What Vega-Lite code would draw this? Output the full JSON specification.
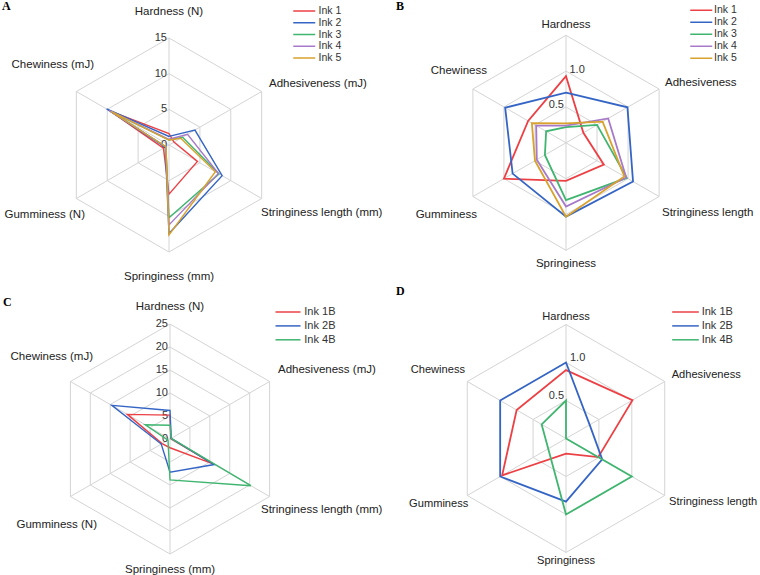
{
"$schema": "https://vega.github.io/schema/vega-lite/v6.json",
"padding": 0,
"background": "white",
"spacing": 0,
"bounds": "flush",
"columns": 2,
"config": {"view": {"stroke": null}, "concat": {"spacing": 0}, "text": {"font": "Liberation Sans"}, "legend": {"padding": 0}},
"datasets": {
"spokes": [{"idx":0},{"idx":1},{"idx":2},{"idx":3},{"idx":4},{"idx":5}],
"ringsA": [{"level":5,"idx":[0,1,2,3,4,5]},{"level":10,"idx":[0,1,2,3,4,5]},{"level":15,"idx":[0,1,2,3,4,5]}],
"ringsC": [{"level":5,"idx":[0,1,2,3,4,5]},{"level":10,"idx":[0,1,2,3,4,5]},{"level":15,"idx":[0,1,2,3,4,5]},{"level":20,"idx":[0,1,2,3,4,5]},{"level":25,"idx":[0,1,2,3,4,5]}],
"ringsN": [{"level":0.5,"idx":[0,1,2,3,4,5]},{"level":1.0,"idx":[0,1,2,3,4,5]},{"level":1.5,"idx":[0,1,2,3,4,5]}],
"ticksA": [{"tick":0},{"tick":5},{"tick":10},{"tick":15}],
"ticksC": [{"tick":0},{"tick":5},{"tick":10},{"tick":15},{"tick":20},{"tick":25}],
"ticksN": [{"tick":0.5},{"tick":1.0}],
"labU": [{"attr":"Hardness","label":"Hardness (N)"},{"attr":"Adhesiveness","label":"Adhesiveness (mJ)"},{"attr":"Stringiness","label":"Stringiness length (mm)"},{"attr":"Springiness","label":"Springiness (mm)"},{"attr":"Gumminess","label":"Gumminess (N)"},{"attr":"Chewiness","label":"Chewiness (mJ)"}],
"labN": [{"attr":"Hardness","label":"Hardness"},{"attr":"Adhesiveness","label":"Adhesiveness"},{"attr":"Stringiness","label":"Stringiness length"},{"attr":"Springiness","label":"Springiness"},{"attr":"Gumminess","label":"Gumminess"},{"attr":"Chewiness","label":"Chewiness"}],
"dA": [
{"ink":"Ink 1","attr":"Hardness","value":1.6},{"ink":"Ink 1","attr":"Adhesiveness","value":0.8},{"ink":"Ink 1","attr":"Stringiness","value":4.6},{"ink":"Ink 1","attr":"Springiness","value":6.9},{"ink":"Ink 1","attr":"Gumminess","value":0.9},{"ink":"Ink 1","attr":"Chewiness","value":9.5},
{"ink":"Ink 2","attr":"Hardness","value":1.2},{"ink":"Ink 2","attr":"Adhesiveness","value":4.2},{"ink":"Ink 2","attr":"Stringiness","value":8.6},{"ink":"Ink 2","attr":"Springiness","value":12.4},{"ink":"Ink 2","attr":"Gumminess","value":0.6},{"ink":"Ink 2","attr":"Chewiness","value":10.1},
{"ink":"Ink 3","attr":"Hardness","value":0.7},{"ink":"Ink 3","attr":"Adhesiveness","value":2.2},{"ink":"Ink 3","attr":"Stringiness","value":8.1},{"ink":"Ink 3","attr":"Springiness","value":10.2},{"ink":"Ink 3","attr":"Gumminess","value":0.5},{"ink":"Ink 3","attr":"Chewiness","value":9.2},
{"ink":"Ink 4","attr":"Hardness","value":0.8},{"ink":"Ink 4","attr":"Adhesiveness","value":3.0},{"ink":"Ink 4","attr":"Stringiness","value":8.0},{"ink":"Ink 4","attr":"Springiness","value":11.2},{"ink":"Ink 4","attr":"Gumminess","value":0.5},{"ink":"Ink 4","attr":"Chewiness","value":9.7},
{"ink":"Ink 5","attr":"Hardness","value":0.7},{"ink":"Ink 5","attr":"Adhesiveness","value":1.9},{"ink":"Ink 5","attr":"Stringiness","value":7.5},{"ink":"Ink 5","attr":"Springiness","value":12.6},{"ink":"Ink 5","attr":"Gumminess","value":0.5},{"ink":"Ink 5","attr":"Chewiness","value":9.4}
],
"dB": [
{"ink":"Ink 1","attr":"Hardness","value":0.93},{"ink":"Ink 1","attr":"Adhesiveness","value":0.28},{"ink":"Ink 1","attr":"Stringiness","value":0.61},{"ink":"Ink 1","attr":"Springiness","value":0.53},{"ink":"Ink 1","attr":"Gumminess","value":1.0},{"ink":"Ink 1","attr":"Chewiness","value":0.61},
{"ink":"Ink 2","attr":"Hardness","value":0.70},{"ink":"Ink 2","attr":"Adhesiveness","value":0.99},{"ink":"Ink 2","attr":"Stringiness","value":1.08},{"ink":"Ink 2","attr":"Springiness","value":1.03},{"ink":"Ink 2","attr":"Gumminess","value":0.86},{"ink":"Ink 2","attr":"Chewiness","value":0.98},
{"ink":"Ink 3","attr":"Hardness","value":0.22},{"ink":"Ink 3","attr":"Adhesiveness","value":0.50},{"ink":"Ink 3","attr":"Stringiness","value":0.98},{"ink":"Ink 3","attr":"Springiness","value":0.80},{"ink":"Ink 3","attr":"Gumminess","value":0.34},{"ink":"Ink 3","attr":"Chewiness","value":0.32},
{"ink":"Ink 4","attr":"Hardness","value":0.24},{"ink":"Ink 4","attr":"Adhesiveness","value":0.68},{"ink":"Ink 4","attr":"Stringiness","value":0.97},{"ink":"Ink 4","attr":"Springiness","value":0.89},{"ink":"Ink 4","attr":"Gumminess","value":0.47},{"ink":"Ink 4","attr":"Chewiness","value":0.48},
{"ink":"Ink 5","attr":"Hardness","value":0.27},{"ink":"Ink 5","attr":"Adhesiveness","value":0.59},{"ink":"Ink 5","attr":"Stringiness","value":0.94},{"ink":"Ink 5","attr":"Springiness","value":1.03},{"ink":"Ink 5","attr":"Gumminess","value":0.50},{"ink":"Ink 5","attr":"Chewiness","value":0.55}
],
"dC": [
{"ink":"Ink 1B","attr":"Hardness","value":5.2},{"ink":"Ink 1B","attr":"Adhesiveness","value":0.2},{"ink":"Ink 1B","attr":"Stringiness","value":10.8},{"ink":"Ink 1B","attr":"Springiness","value":1.9},{"ink":"Ink 1B","attr":"Gumminess","value":2.0},{"ink":"Ink 1B","attr":"Chewiness","value":10.7},
{"ink":"Ink 2B","attr":"Hardness","value":6.2},{"ink":"Ink 2B","attr":"Adhesiveness","value":0.3},{"ink":"Ink 2B","attr":"Stringiness","value":11.1},{"ink":"Ink 2B","attr":"Springiness","value":7.2},{"ink":"Ink 2B","attr":"Gumminess","value":2.2},{"ink":"Ink 2B","attr":"Chewiness","value":14.6},
{"ink":"Ink 4B","attr":"Hardness","value":3.0},{"ink":"Ink 4B","attr":"Adhesiveness","value":0.3},{"ink":"Ink 4B","attr":"Stringiness","value":20.3},{"ink":"Ink 4B","attr":"Springiness","value":8.9},{"ink":"Ink 4B","attr":"Gumminess","value":0.5},{"ink":"Ink 4B","attr":"Chewiness","value":6.2}
],
"dD": [
{"ink":"Ink 1B","attr":"Hardness","value":0.90},{"ink":"Ink 1B","attr":"Adhesiveness","value":1.01},{"ink":"Ink 1B","attr":"Stringiness","value":0.49},{"ink":"Ink 1B","attr":"Springiness","value":0.20},{"ink":"Ink 1B","attr":"Gumminess","value":0.97},{"ink":"Ink 1B","attr":"Chewiness","value":0.75},
{"ink":"Ink 2B","attr":"Hardness","value":1.0},{"ink":"Ink 2B","attr":"Adhesiveness","value":0.36},{"ink":"Ink 2B","attr":"Stringiness","value":0.55},{"ink":"Ink 2B","attr":"Springiness","value":0.83},{"ink":"Ink 2B","attr":"Gumminess","value":1.0},{"ink":"Ink 2B","attr":"Chewiness","value":1.0},
{"ink":"Ink 4B","attr":"Hardness","value":0.50},{"ink":"Ink 4B","attr":"Adhesiveness","value":0.0},{"ink":"Ink 4B","attr":"Stringiness","value":1.0},{"ink":"Ink 4B","attr":"Springiness","value":1.0},{"ink":"Ink 4B","attr":"Gumminess","value":0.27},{"ink":"Ink 4B","attr":"Chewiness","value":0.37}
]
},
"resolve": {"scale": {"color": "independent", "x": "independent", "y": "independent"}, "legend": {"color": "independent"}},
"concat": [
{
"width": 380, "height": 287,
"title": {"text": "A", "anchor": "start", "frame": "group", "offset": -11, "dx": 2, "font": "Liberation Serif", "fontSize": 12, "fontWeight": "bold", "color": "#000"},
"encoding": {
"x": {"field": "x", "type": "quantitative", "scale": {"domain": [-23.692, 29.579], "nice": false, "zero": false}, "axis": null},
"y": {"field": "y", "type": "quantitative", "scale": {"domain": [-20.187, 20.047], "nice": false, "zero": false}, "axis": null}
},
"layer": [
{"data": {"name": "ringsA"}, "transform": [{"flatten": ["idx"]}, {"calculate": "datum.level*sin(datum.idx*PI/3)", "as": "x"}, {"calculate": "datum.level*cos(datum.idx*PI/3)", "as": "y"}], "mark": {"type": "line", "interpolate": "linear-closed", "color": "#d4d4d4", "strokeWidth": 1}, "encoding": {"detail": {"field": "level", "type": "nominal"}, "order": {"field": "idx", "type": "quantitative"}}},
{"data": {"name": "spokes"}, "transform": [{"calculate": "0", "as": "x"}, {"calculate": "0", "as": "y"}, {"calculate": "15*sin(datum.idx*PI/3)", "as": "x2"}, {"calculate": "15*cos(datum.idx*PI/3)", "as": "y2"}], "mark": {"type": "rule", "color": "#d4d4d4", "strokeWidth": 1}, "encoding": {"x2": {"field": "x2"}, "y2": {"field": "y2"}}},
{"data": {"name": "ticksA"}, "transform": [{"calculate": "0", "as": "x"}, {"calculate": "datum.tick", "as": "y"}], "mark": {"type": "text", "align": "right", "baseline": "middle", "dx": -2, "fontSize": 11, "color": "#333"}, "encoding": {"text": {"field": "tick", "type": "quantitative", "format": "d"}}},
{"data": {"name": "labU"}, "transform": [{"filter": "datum.attr=='Adhesiveness' || datum.attr=='Stringiness'"}, {"calculate": "(datum.attr=='Adhesiveness' ? 100 : 92)/7.1333", "as": "x"}, {"calculate": "(datum.attr=='Adhesiveness' ? 61 : -68)/7.1333", "as": "y"}], "mark": {"type": "text", "align": "left", "baseline": "middle", "fontSize": 11.5, "color": "#222"}, "encoding": {"text": {"field": "label"}}},
{"data": {"name": "labU"}, "transform": [{"filter": "datum.attr=='Gumminess' || datum.attr=='Chewiness'"}, {"calculate": "(datum.attr=='Gumminess' ? -84 : -75)/7.1333", "as": "x"}, {"calculate": "(datum.attr=='Gumminess' ? -70 : 80)/7.1333", "as": "y"}], "mark": {"type": "text", "align": "right", "baseline": "middle", "fontSize": 11.5, "color": "#222"}, "encoding": {"text": {"field": "label"}}},
{"data": {"name": "labU"}, "transform": [{"filter": "datum.attr=='Hardness' || datum.attr=='Springiness'"}, {"calculate": "0", "as": "x"}, {"calculate": "(datum.attr=='Hardness' ? 133 : -132)/7.1333", "as": "y"}], "mark": {"type": "text", "align": "center", "baseline": "middle", "fontSize": 11.5, "color": "#222"}, "encoding": {"text": {"field": "label"}}},
{"data": {"name": "dA"}, "transform": [{"calculate": "indexof(['Hardness','Adhesiveness','Stringiness','Springiness','Gumminess','Chewiness'],datum.attr)", "as": "idx"}, {"calculate": "datum.value*sin(datum.idx*PI/3)", "as": "x"}, {"calculate": "datum.value*cos(datum.idx*PI/3)", "as": "y"}], "mark": {"type": "line", "interpolate": "linear-closed", "strokeWidth": 1.4},
 "encoding": {"order": {"field": "idx", "type": "quantitative"}, "color": {"field": "ink", "type": "nominal", "scale": {"domain": ["Ink 1", "Ink 2", "Ink 3", "Ink 4", "Ink 5"], "range": ["#ec4044", "#3565c4", "#3fb56f", "#a67ac9", "#d9a22c"]},
 "legend": {"title": null, "orient": "none", "legendX": 299, "legendY": 3.75, "symbolType": "M-2.75,0H2.75", "symbolSize": 64, "symbolStrokeWidth": 1.5, "labelFont": "Liberation Sans", "labelFontSize": 10.5, "labelColor": "#333", "rowPadding": 0.75, "labelOffset": 9}}}}
]
},
{
"width": 380, "height": 287,
"title": {"text": "B", "anchor": "start", "frame": "group", "offset": -11, "dx": 16, "font": "Liberation Serif", "fontSize": 12, "fontWeight": "bold", "color": "#000"},
"encoding": {
"x": {"field": "x", "type": "quantitative", "scale": {"domain": [-2.5953, 2.7070], "nice": false, "zero": false}, "axis": null},
"y": {"field": "y", "type": "quantitative", "scale": {"domain": [-2.0400, 1.9647], "nice": false, "zero": false}, "axis": null}
},
"layer": [
{"data": {"name": "ringsN"}, "transform": [{"flatten": ["idx"]}, {"calculate": "datum.level*sin(datum.idx*PI/3)", "as": "x"}, {"calculate": "datum.level*cos(datum.idx*PI/3)", "as": "y"}], "mark": {"type": "line", "interpolate": "linear-closed", "color": "#d4d4d4", "strokeWidth": 1}, "encoding": {"detail": {"field": "level", "type": "nominal"}, "order": {"field": "idx", "type": "quantitative"}}},
{"data": {"name": "spokes"}, "transform": [{"calculate": "0", "as": "x"}, {"calculate": "0", "as": "y"}, {"calculate": "1.5*sin(datum.idx*PI/3)", "as": "x2"}, {"calculate": "1.5*cos(datum.idx*PI/3)", "as": "y2"}], "mark": {"type": "rule", "color": "#d4d4d4", "strokeWidth": 1}, "encoding": {"x2": {"field": "x2"}, "y2": {"field": "y2"}}},
{"data": {"name": "ticksN"}, "transform": [{"filter": "datum.tick > 0.75"}, {"calculate": "0", "as": "x"}, {"calculate": "datum.tick", "as": "y"}], "mark": {"type": "text", "align": "left", "baseline": "middle", "dx": 3.5, "dy": -1, "fontSize": 11, "color": "#333"}, "encoding": {"text": {"field": "tick", "type": "quantitative", "format": ".1f"}}},
{"data": {"name": "ticksN"}, "transform": [{"filter": "datum.tick < 0.75"}, {"calculate": "0", "as": "x"}, {"calculate": "datum.tick", "as": "y"}], "mark": {"type": "text", "align": "right", "baseline": "middle", "dx": -2, "dy": -2, "fontSize": 11, "color": "#333"}, "encoding": {"text": {"field": "tick", "type": "quantitative", "format": ".1f"}}},
{"data": {"name": "labN"}, "transform": [{"filter": "datum.attr=='Adhesiveness' || datum.attr=='Stringiness'"}, {"calculate": "(datum.attr=='Adhesiveness' ? 99 : 96)/71.667", "as": "x"}, {"calculate": "(datum.attr=='Adhesiveness' ? 60 : -70)/71.667", "as": "y"}], "mark": {"type": "text", "align": "left", "baseline": "middle", "fontSize": 11.5, "color": "#222"}, "encoding": {"text": {"field": "label"}}},
{"data": {"name": "labN"}, "transform": [{"filter": "datum.attr=='Gumminess' || datum.attr=='Chewiness'"}, {"calculate": "(datum.attr=='Gumminess' ? -89 : -79)/71.667", "as": "x"}, {"calculate": "(datum.attr=='Gumminess' ? -72 : 72)/71.667", "as": "y"}], "mark": {"type": "text", "align": "right", "baseline": "middle", "fontSize": 11.5, "color": "#222"}, "encoding": {"text": {"field": "label"}}},
{"data": {"name": "labN"}, "transform": [{"filter": "datum.attr=='Hardness' || datum.attr=='Springiness'"}, {"calculate": "0", "as": "x"}, {"calculate": "(datum.attr=='Hardness' ? 118 : -121)/71.667", "as": "y"}], "mark": {"type": "text", "align": "center", "baseline": "middle", "fontSize": 11.5, "color": "#222"}, "encoding": {"text": {"field": "label"}}},
{"data": {"name": "dB"}, "transform": [{"calculate": "indexof(['Hardness','Adhesiveness','Stringiness','Springiness','Gumminess','Chewiness'],datum.attr)", "as": "idx"}, {"calculate": "datum.value*sin(datum.idx*PI/3)", "as": "x"}, {"calculate": "datum.value*cos(datum.idx*PI/3)", "as": "y"}], "mark": {"type": "line", "interpolate": "linear-closed", "strokeWidth": 1.8},
 "encoding": {"order": {"field": "idx", "type": "quantitative"}, "color": {"field": "ink", "type": "nominal", "scale": {"domain": ["Ink 1", "Ink 2", "Ink 3", "Ink 4", "Ink 5"], "range": ["#ec4044", "#3565c4", "#3fb56f", "#a67ac9", "#d9a22c"]},
 "legend": {"title": null, "orient": "none", "legendX": 316, "legendY": 3, "symbolType": "M-2.75,0H2.75", "symbolSize": 64, "symbolStrokeWidth": 1.5, "labelFont": "Liberation Sans", "labelFontSize": 10.5, "labelColor": "#333", "rowPadding": 1.0, "labelOffset": 7.5}}}}
]
},
{
"width": 380, "height": 288,
"title": {"text": "C", "anchor": "start", "frame": "group", "offset": -20, "dx": 3, "font": "Liberation Serif", "fontSize": 12, "fontWeight": "bold", "color": "#000"},
"encoding": {
"x": {"field": "x", "type": "quantitative", "scale": {"domain": [-36.957, 45.652], "nice": false, "zero": false}, "axis": null},
"y": {"field": "y", "type": "quantitative", "scale": {"domain": [-30.0, 32.609], "nice": false, "zero": false}, "axis": null}
},
"layer": [
{"data": {"name": "ringsC"}, "transform": [{"flatten": ["idx"]}, {"calculate": "datum.level*sin(datum.idx*PI/3)", "as": "x"}, {"calculate": "datum.level*cos(datum.idx*PI/3)", "as": "y"}], "mark": {"type": "line", "interpolate": "linear-closed", "color": "#d4d4d4", "strokeWidth": 1}, "encoding": {"detail": {"field": "level", "type": "nominal"}, "order": {"field": "idx", "type": "quantitative"}}},
{"data": {"name": "spokes"}, "transform": [{"calculate": "0", "as": "x"}, {"calculate": "0", "as": "y"}, {"calculate": "25*sin(datum.idx*PI/3)", "as": "x2"}, {"calculate": "25*cos(datum.idx*PI/3)", "as": "y2"}], "mark": {"type": "rule", "color": "#d4d4d4", "strokeWidth": 1}, "encoding": {"x2": {"field": "x2"}, "y2": {"field": "y2"}}},
{"data": {"name": "ticksC"}, "transform": [{"calculate": "0", "as": "x"}, {"calculate": "datum.tick", "as": "y"}], "mark": {"type": "text", "align": "right", "baseline": "middle", "dx": -2, "fontSize": 11, "color": "#333"}, "encoding": {"text": {"field": "tick", "type": "quantitative", "format": "d"}}},
{"data": {"name": "labU"}, "transform": [{"filter": "datum.attr=='Adhesiveness' || datum.attr=='Stringiness'"}, {"calculate": "(datum.attr=='Adhesiveness' ? 108 : 91)/4.6", "as": "x"}, {"calculate": "(datum.attr=='Adhesiveness' ? 69 : -71)/4.6", "as": "y"}], "mark": {"type": "text", "align": "left", "baseline": "middle", "fontSize": 11.5, "color": "#222"}, "encoding": {"text": {"field": "label"}}},
{"data": {"name": "labU"}, "transform": [{"filter": "datum.attr=='Gumminess' || datum.attr=='Chewiness'"}, {"calculate": "(datum.attr=='Gumminess' ? -73 : -77)/4.6", "as": "x"}, {"calculate": "(datum.attr=='Gumminess' ? -86 : 82)/4.6", "as": "y"}], "mark": {"type": "text", "align": "right", "baseline": "middle", "fontSize": 11.5, "color": "#222"}, "encoding": {"text": {"field": "label"}}},
{"data": {"name": "labU"}, "transform": [{"filter": "datum.attr=='Hardness' || datum.attr=='Springiness'"}, {"calculate": "0", "as": "x"}, {"calculate": "(datum.attr=='Hardness' ? 132 : -131)/4.6", "as": "y"}], "mark": {"type": "text", "align": "center", "baseline": "middle", "fontSize": 11.5, "color": "#222"}, "encoding": {"text": {"field": "label"}}},
{"data": {"name": "dC"}, "transform": [{"calculate": "indexof(['Hardness','Adhesiveness','Stringiness','Springiness','Gumminess','Chewiness'],datum.attr)", "as": "idx"}, {"calculate": "datum.value*sin(datum.idx*PI/3)", "as": "x"}, {"calculate": "datum.value*cos(datum.idx*PI/3)", "as": "y"}], "mark": {"type": "line", "interpolate": "linear-closed", "strokeWidth": 1.4},
 "encoding": {"order": {"field": "idx", "type": "quantitative"}, "color": {"field": "ink", "type": "nominal", "scale": {"domain": ["Ink 1B", "Ink 2B", "Ink 4B"], "range": ["#ec4044", "#3565c4", "#3fb56f"]},
 "legend": {"title": null, "orient": "none", "legendX": 282.5, "legendY": 17.5, "symbolType": "M-3.125,0H3.125", "symbolSize": 64, "symbolStrokeWidth": 1.5, "labelFont": "Liberation Sans", "labelFontSize": 11, "labelColor": "#333", "rowPadding": 1.9, "labelOffset": 10.8}}}}
]
},
{
"width": 380, "height": 288,
"title": {"text": "D", "anchor": "start", "frame": "group", "offset": -9, "dx": 16, "font": "Liberation Serif", "fontSize": 12, "fontWeight": "bold", "color": "#000"},
"encoding": {
"x": {"field": "x", "type": "quantitative", "scale": {"domain": [-2.4474, 2.5526], "nice": false, "zero": false}, "axis": null},
"y": {"field": "y", "type": "quantitative", "scale": {"domain": [-1.8224, 1.9671], "nice": false, "zero": false}, "axis": null}
},
"layer": [
{"data": {"name": "ringsN"}, "transform": [{"flatten": ["idx"]}, {"calculate": "datum.level*sin(datum.idx*PI/3)", "as": "x"}, {"calculate": "datum.level*cos(datum.idx*PI/3)", "as": "y"}], "mark": {"type": "line", "interpolate": "linear-closed", "color": "#d4d4d4", "strokeWidth": 1}, "encoding": {"detail": {"field": "level", "type": "nominal"}, "order": {"field": "idx", "type": "quantitative"}}},
{"data": {"name": "spokes"}, "transform": [{"calculate": "0", "as": "x"}, {"calculate": "0", "as": "y"}, {"calculate": "1.5*sin(datum.idx*PI/3)", "as": "x2"}, {"calculate": "1.5*cos(datum.idx*PI/3)", "as": "y2"}], "mark": {"type": "rule", "color": "#d4d4d4", "strokeWidth": 1}, "encoding": {"x2": {"field": "x2"}, "y2": {"field": "y2"}}},
{"data": {"name": "ticksN"}, "transform": [{"filter": "datum.tick > 0.75"}, {"calculate": "0", "as": "x"}, {"calculate": "datum.tick", "as": "y"}], "mark": {"type": "text", "align": "left", "baseline": "middle", "dx": 4, "dy": -4, "fontSize": 11, "color": "#333"}, "encoding": {"text": {"field": "tick", "type": "quantitative", "format": ".1f"}}},
{"data": {"name": "ticksN"}, "transform": [{"filter": "datum.tick < 0.75"}, {"calculate": "0", "as": "x"}, {"calculate": "datum.tick", "as": "y"}], "mark": {"type": "text", "align": "right", "baseline": "middle", "dx": -2, "dy": -4, "fontSize": 11, "color": "#333"}, "encoding": {"text": {"field": "tick", "type": "quantitative", "format": ".1f"}}},
{"data": {"name": "labN"}, "transform": [{"filter": "datum.attr=='Adhesiveness' || datum.attr=='Stringiness'"}, {"calculate": "(datum.attr=='Adhesiveness' ? 105.7 : 103)/76", "as": "x"}, {"calculate": "(datum.attr=='Adhesiveness' ? 63.4 : -64)/76", "as": "y"}], "mark": {"type": "text", "align": "left", "baseline": "middle", "fontSize": 11.1, "color": "#222"}, "encoding": {"text": {"field": "label"}}},
{"data": {"name": "labN"}, "transform": [{"filter": "datum.attr=='Gumminess' || datum.attr=='Chewiness'"}, {"calculate": "(datum.attr=='Gumminess' ? -97.7 : -101)/76", "as": "x"}, {"calculate": "(datum.attr=='Gumminess' ? -65.6 : 68.4)/76", "as": "y"}], "mark": {"type": "text", "align": "right", "baseline": "middle", "fontSize": 11.1, "color": "#222"}, "encoding": {"text": {"field": "label"}}},
{"data": {"name": "labN"}, "transform": [{"filter": "datum.attr=='Hardness' || datum.attr=='Springiness'"}, {"calculate": "0", "as": "x"}, {"calculate": "(datum.attr=='Hardness' ? 121.7 : -122.6)/76", "as": "y"}], "mark": {"type": "text", "align": "center", "baseline": "middle", "fontSize": 11.1, "color": "#222"}, "encoding": {"text": {"field": "label"}}},
{"data": {"name": "dD"}, "transform": [{"calculate": "indexof(['Hardness','Adhesiveness','Stringiness','Springiness','Gumminess','Chewiness'],datum.attr)", "as": "idx"}, {"calculate": "datum.value*sin(datum.idx*PI/3)", "as": "x"}, {"calculate": "datum.value*cos(datum.idx*PI/3)", "as": "y"}], "mark": {"type": "line", "interpolate": "linear-closed", "strokeWidth": 1.8},
 "encoding": {"order": {"field": "idx", "type": "quantitative"}, "color": {"field": "ink", "type": "nominal", "scale": {"domain": ["Ink 1B", "Ink 2B", "Ink 4B"], "range": ["#ec4044", "#3565c4", "#3fb56f"]},
 "legend": {"title": null, "orient": "none", "legendX": 300, "legendY": 17.5, "symbolType": "M-3.33,0H3.33", "symbolSize": 64, "symbolStrokeWidth": 1.5, "labelFont": "Liberation Sans", "labelFontSize": 11, "labelColor": "#333", "rowPadding": 1.9, "labelOffset": 10.7}}}}
]
}
]
}
